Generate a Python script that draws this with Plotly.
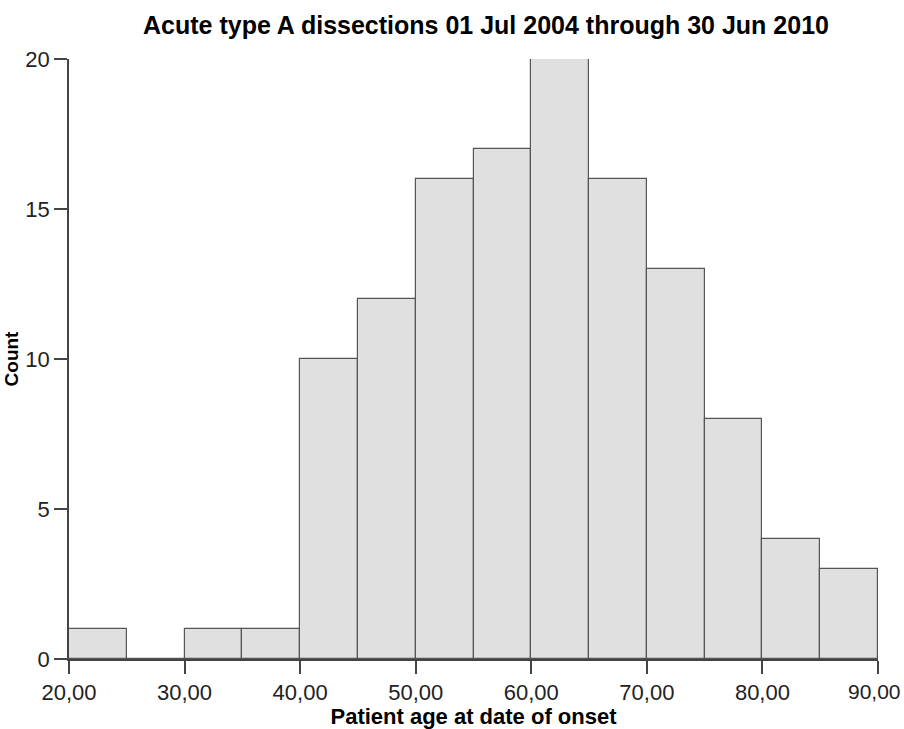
import plotly.graph_objects as go

bin_starts = [20, 25, 30, 35, 40, 45, 50, 55, 60, 65, 70, 75, 80, 85]
counts = [1, 0, 1, 1, 10, 12, 16, 17, 21, 16, 13, 8, 4, 3]
bin_width = 5
x_ticks = [20, 30, 40, 50, 60, 70, 80, 90]
x_tick_labels = ["20,00", "30,00", "40,00", "50,00", "60,00", "70,00", "80,00", "90,00"]
y_ticks = [0, 5, 10, 15, 20]

centers = [s + bin_width / 2 for s in bin_starts]

fig = go.Figure(go.Bar(
    x=centers, y=counts, width=[bin_width] * len(counts),
    marker=dict(color="#e0e0e0", line=dict(color="#555555", width=1.2)),
    hoverinfo="skip",
))

FONT = "Liberation Sans, Arial, sans-serif"
axis_font = dict(family=FONT, size=22, color="#222222")

# last tick label sits at the page edge; draw it as an annotation nudged inside the page
shown_labels = x_tick_labels[:-1] + [""]
fig.add_annotation(
    x=x_ticks[-1], y=0, xref="x", yref="paper",
    text=x_tick_labels[-1], showarrow=False,
    xanchor="center", yanchor="top", yshift=-19, xshift=-4,
    font=dict(family=FONT, size=21, color="#222222"),
)

fig.update_layout(
    width=904, height=729,
    margin=dict(l=69, r=26, t=59, b=70, autoexpand=False),
    paper_bgcolor="white", plot_bgcolor="white",
    showlegend=False,
    bargap=0,
    title=dict(
        text="<b>Acute type A dissections 01 Jul 2004 through 30 Jun 2010</b>",
        font=dict(family=FONT, size=25, color="#000000"),
        x=486 / 904, xanchor="center", y=1 - 25 / 729, yanchor="middle",
    ),
    xaxis=dict(
        range=[20, 90], tickvals=x_ticks, ticktext=shown_labels,
        automargin=False,
        showgrid=False, zeroline=False, showline=True, linecolor="#444444", linewidth=1.5,
        ticks="outside", ticklen=13, tickcolor="#444444", tickwidth=1.5,
        tickfont=axis_font,
        title=dict(text="<b>Patient age at date of onset</b>",
                   font=dict(family=FONT, size=22, color="#000000"),
                   standoff=2),
    ),
    yaxis=dict(
        range=[0, 20], tickvals=y_ticks, ticktext=[str(v) for v in y_ticks],
        automargin=False,
        showgrid=False, zeroline=False, showline=True, linecolor="#444444", linewidth=1.5,
        ticks="outside", ticklen=13, tickcolor="#444444", tickwidth=1.5,
        tickfont=axis_font,
        title=dict(text="<b>Count</b>",
                   font=dict(family=FONT, size=19, color="#000000"),
                   standoff=2),
    ),
)

fig.write_html("out.html")
